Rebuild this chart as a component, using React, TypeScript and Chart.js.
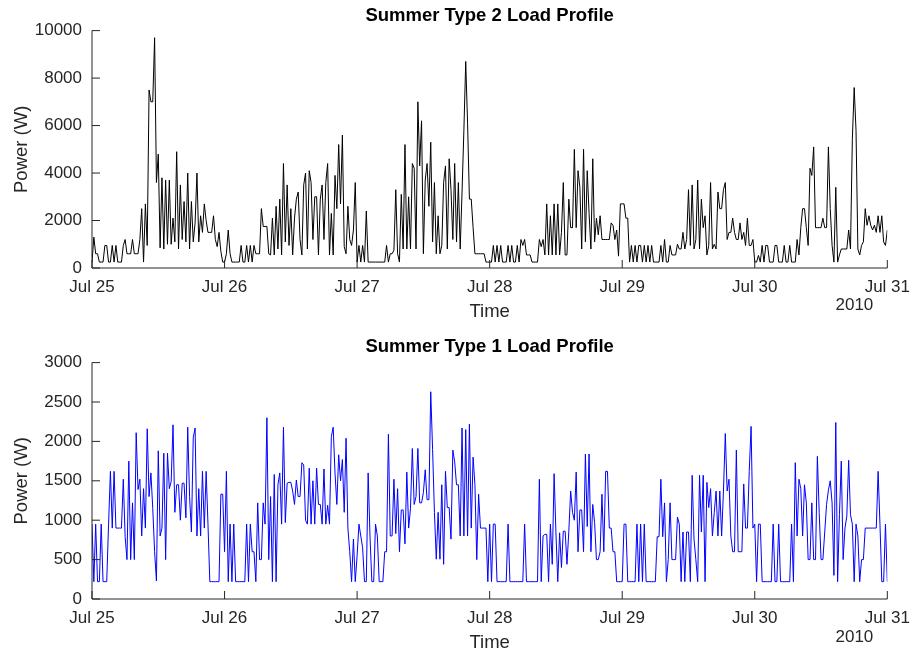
import React, { useEffect, useRef } from "react";
import { Chart, registerables } from "chart.js";

Chart.register(...registerables);

// Axis decorations
const dayLabels = ["Jul 25", "Jul 26", "Jul 27", "Jul 28", "Jul 29", "Jul 30", "Jul 31"];
const yearLabel = "2010";
const type2Ticks = [0, 2000, 4000, 6000, 8000, 10000];
const type1Ticks = [0, 500, 1000, 1500, 2000, 2500, 3000];
const stepsPerDay = 72; // one sample every 20 minutes

// Summer Type 2 load profile, power in W, one array per day
const type2Jul25 = [
  250, 1300, 600, 600, 250, 250, 250, 950, 950, 250,
  250, 950, 250, 950, 250, 250, 250, 950, 1200, 600,
  600, 600, 1200, 600, 600, 600, 1200, 2500, 250, 2700,
  950, 7500, 7000, 7000, 9700, 3600, 4800, 850, 3800, 800,
  3700, 1000, 3700, 1000, 2100, 1100, 4900, 800, 3500, 1200,
  2800, 1100, 4000, 800, 2800, 1100, 1900, 4000, 1100, 2200,
  1500, 2700, 2000, 1500, 1500, 1500, 2200, 1200, 900, 1500,
  700, 250,
];
const type2Jul26 = [
  250, 600, 1600, 600, 250, 250, 250, 250, 250, 950,
  250, 250, 950, 250, 950, 250, 950, 600, 600, 600,
  2500, 1750, 1750, 1750, 600, 550, 2100, 550, 2600, 800,
  2900, 550, 4400, 1100, 3500, 950, 2500, 550, 2100, 2900,
  3200, 1200, 550, 3500, 4000, 800, 4100, 3600, 1200, 3000,
  3000, 550, 2900, 3500, 1200, 3600, 4400, 550, 2300, 550,
  3900, 2500, 5200, 2700, 5600, 900, 600, 2600, 1200, 950,
  1600, 3600,
];
const type2Jul27 = [
  250, 950, 250, 950, 250, 2400, 250, 250, 250, 250,
  250, 250, 250, 250, 250, 250, 950, 250, 600, 600,
  750, 3300, 600, 250, 3100, 800, 5200, 800, 3000, 800,
  4400, 4200, 800, 7000, 4300, 6200, 600, 3700, 4400, 2600,
  5300, 1100, 3600, 600, 2200, 600, 950, 3600, 4300, 800,
  4600, 3300, 1200, 4400, 1100, 3600, 800, 3200, 5800, 8700,
  6100, 2900, 2900, 1700, 600, 600, 600, 600, 600, 600,
  250, 250,
];
const type2Jul28 = [
  250, 250, 950, 250, 950, 250, 950, 250, 250, 250,
  950, 250, 950, 250, 250, 950, 250, 1200, 950, 1200,
  550, 550, 550, 250, 250, 250, 250, 1200, 900, 1200,
  550, 2700, 550, 2200, 550, 2700, 550, 2700, 550, 1500,
  3600, 550, 550, 2900, 1700, 1700, 5000, 1700, 4100, 3400,
  800, 5000, 1100, 4100, 2300, 800, 4600, 1100, 2100, 1400,
  2200, 1200, 1200, 1200, 1200, 1200, 1900, 1800, 1200, 1600,
  500, 2700,
];
const type2Jul29 = [
  2700, 2700, 2100, 2100, 250, 950, 250, 950, 250, 950,
  950, 250, 950, 250, 950, 250, 950, 250, 250, 250,
  250, 950, 250, 1200, 250, 250, 950, 550, 550, 550,
  1000, 800, 800, 1500, 800, 1200, 3300, 950, 3500, 800,
  1200, 3700, 800, 2900, 1700, 2200, 550, 950, 3600, 800,
  1000, 800, 3200, 2500, 2500, 3300, 3600, 1200, 1500, 1500,
  2100, 1500, 1200, 1200, 1900, 1200, 1500, 950, 2100, 950,
  950, 1200,
];
const type2Jul30 = [
  250, 250, 530, 250, 950, 250, 950, 950, 250, 250,
  250, 950, 950, 250, 250, 250, 950, 250, 250, 950,
  250, 250, 250, 1200, 550, 1700, 2500, 2500, 1700, 950,
  4200, 3900, 5100, 1700, 1700, 1700, 1700, 2100, 1700, 1700,
  5100, 2500, 950, 250, 3400, 250, 550, 800, 800, 800,
  800, 1600, 800, 5400, 7600, 5800, 800, 550, 950, 1100,
  2500, 1800, 2200, 1800, 1600, 1800, 1500, 2200, 1500, 2200,
  1100, 950, 1600,
];

// Summer Type 1 load profile, power in W, one array per day
const type1Jul25 = [
  950, 220, 950, 220, 220, 950, 220, 220, 220, 950,
  1620, 900, 1620, 900, 900, 900, 900, 1520, 790, 500,
  1750, 500, 1220, 500, 2110, 1390, 1520, 800, 1400, 900,
  2160, 1300, 1600, 1150, 600, 230, 1880, 800, 900, 1850,
  500, 1850, 1400, 1490, 2210, 1100, 1450, 1450, 1000, 1470,
  1470, 1030, 2180, 1300, 850, 2050, 2170, 800, 1400, 800,
  1620, 900, 1620, 950, 220, 220, 220, 220, 220, 220,
  1330, 1330,
];
const type1Jul26 = [
  600, 1620, 220, 950, 220, 950, 220, 220, 220, 220,
  220, 220, 950, 220, 950, 600, 600, 220, 1220, 500,
  500, 1220, 950, 2300, 500, 1300, 220, 1580, 220, 1450,
  1600, 950, 2180, 970, 1470, 1480, 1480, 1370, 1200, 1510,
  1300, 1300, 1730, 1700, 1000, 950, 1660, 950, 1500, 950,
  1660, 1200, 1200, 950, 1650, 950, 1190, 950, 2060, 2180,
  1600, 1200, 1830, 1500, 1770, 1100, 2040, 900, 600, 220,
  760, 220,
];
const type1Jul27 = [
  550, 950, 800, 650, 220, 220, 1600, 800, 220, 220,
  950, 800, 220, 220, 220, 600, 600, 2090, 800, 800,
  1520, 830, 1400, 600, 1130, 1130, 700, 1610, 900, 1150,
  1910, 1200, 1300, 1910, 1220, 1220, 1350, 1640, 1260, 1260,
  2630, 1900, 1100, 505, 1100, 505, 1450, 440, 1620, 1160,
  1160, 760, 1890, 1740, 1450, 1450, 800, 2170, 800, 2150,
  800, 2220, 900, 1800, 1450, 500, 1330, 900, 900, 900,
  900, 220,
];
const type1Jul28 = [
  950, 220, 950, 950, 220, 220, 220, 220, 220, 220,
  950, 220, 220, 220, 220, 220, 220, 220, 220, 950,
  220, 220, 220, 220, 220, 220, 220, 1520, 220, 800,
  820, 820, 220, 950, 440, 1590, 840, 220, 840, 400,
  860, 860, 440, 860, 1370, 1100, 1000, 1610, 600, 1130,
  1130, 600, 1840, 920, 1840, 600, 1200, 970, 500, 500,
  600, 1330, 600, 1620, 1620, 900, 900, 600, 600, 220,
  220, 220,
];
const type1Jul29 = [
  220, 950, 950, 220, 220, 220, 220, 220, 950, 220,
  950, 220, 950, 220, 220, 220, 220, 220, 220, 790,
  790, 1520, 790, 1220, 220, 500, 1220, 500, 500, 500,
  1040, 950, 220, 850, 220, 850, 850, 220, 1570, 760,
  500, 220, 1570, 850, 1570, 220, 1480, 1160, 1400, 800,
  1100, 1370, 800, 1370, 800, 1370, 2100, 1370, 1520, 800,
  600, 600, 1890, 600, 600, 600, 1460, 900, 900, 1620,
  2190, 900,
];
const type1Jul30 = [
  950, 220, 950, 950, 220, 220, 220, 220, 220, 220,
  950, 220, 220, 950, 220, 220, 220, 220, 220, 220,
  950, 220, 1730, 800, 1520, 1400, 800, 1450, 1220, 500,
  500, 1220, 500, 500, 1810, 1100, 500, 500, 850, 1200,
  1380, 1500, 1220, 300, 2240, 220, 1070, 1750, 500, 900,
  1050, 1760, 1070, 950, 220, 950, 800, 220, 500, 500,
  900, 900, 900, 900, 900, 900, 900, 1620, 950, 220,
  220, 950, 220,
];

const type2Days = [type2Jul25, type2Jul26, type2Jul27, type2Jul28, type2Jul29, type2Jul30];
const type1Days = [type1Jul25, type1Jul26, type1Jul27, type1Jul28, type1Jul29, type1Jul30];

const FONT = '"Liberation Sans", Arial, Helvetica, sans-serif';
const TEXT = "#262626";
const AXIS = "#262626";
const TICK_SIZE = 17;
const LABEL_SIZE = 18.5;
const TICK_LEN = 8;

function toPoints(days: number[][]) {
  const pts: { x: number; y: number }[] = [];
  days.forEach((vals, d) => {
    vals.forEach((v, i) => pts.push({ x: d + i / stepsPerDay, y: v }));
  });
  return pts;
}

// Box-off axes with inward tick marks and the year under the last date
const axesDecor = {
  id: "axesDecor",
  afterDraw(chart: any) {
    const { ctx, chartArea: a, scales } = chart;
    const x = scales.x;
    const y = scales.y;
    const yearOffset = chart.options.plugins.axesDecor.yearOffset;
    ctx.save();
    ctx.strokeStyle = AXIS;
    ctx.lineWidth = 1;
    ctx.beginPath();
    ctx.moveTo(a.left, a.top);
    ctx.lineTo(a.left, a.bottom);
    ctx.lineTo(a.right, a.bottom);
    x.ticks.forEach((t: any) => {
      const px = x.getPixelForValue(t.value);
      ctx.moveTo(px, a.bottom);
      ctx.lineTo(px, a.bottom - TICK_LEN);
    });
    y.ticks.forEach((t: any) => {
      const py = y.getPixelForValue(t.value);
      ctx.moveTo(a.left, py);
      ctx.lineTo(a.left + TICK_LEN, py);
    });
    ctx.stroke();
    ctx.fillStyle = TEXT;
    ctx.font = `${TICK_SIZE}px ${FONT}`;
    ctx.textAlign = "right";
    ctx.textBaseline = "middle";
    ctx.fillText(yearLabel, a.right - 14, a.bottom + yearOffset);
    ctx.restore();
  },
};

type PanelProps = {
  title: string;
  days: number[][];
  color: string;
  yTicks: number[];
  height: number;
  titlePad: { top: number; bottom: number };
  xAxisHeight: number;
  tickPad: number;
  xTitlePad: number;
  yearOffset: number;
};

function Panel(props: PanelProps) {
  const ref = useRef<HTMLCanvasElement | null>(null);
  useEffect(() => {
    if (!ref.current) return;
    const yMax = props.yTicks[props.yTicks.length - 1];
    const yStep = props.yTicks[1] - props.yTicks[0];
    const chart = new Chart(ref.current, {
      type: "line",
      data: {
        datasets: [
          {
            data: toPoints(props.days),
            borderColor: props.color,
            borderWidth: 1,
            pointRadius: 0,
            tension: 0,
            fill: false,
          },
        ],
      },
      options: {
        responsive: false,
        animation: false,
        layout: { padding: { left: 0, right: 26, top: 0, bottom: 0 } },
        plugins: {
          legend: { display: false },
          tooltip: { enabled: false },
          title: {
            display: true,
            text: props.title,
            color: "#000",
            fullSize: false,
            font: { family: FONT, size: LABEL_SIZE, weight: "bold" },
            padding: props.titlePad,
          },
          axesDecor: { yearOffset: props.yearOffset },
        } as any,
        scales: {
          x: {
            type: "linear",
            min: 0,
            max: dayLabels.length - 1,
            border: { display: false },
            grid: { display: false, drawTicks: false },
            ticks: {
              stepSize: 1,
              autoSkip: false,
              maxRotation: 0,
              padding: props.tickPad,
              color: TEXT,
              font: { family: FONT, size: TICK_SIZE },
              callback: (v: any) => dayLabels[Math.round(Number(v))] ?? "",
            },
            title: {
              display: true,
              text: "Time",
              color: TEXT,
              font: { family: FONT, size: LABEL_SIZE },
              padding: { top: 0, bottom: props.xTitlePad },
            },
            afterFit: (s: any) => {
              s.height = props.xAxisHeight;
            },
          },
          y: {
            type: "linear",
            min: 0,
            max: yMax,
            border: { display: false },
            grid: { display: false, drawTicks: false },
            ticks: {
              stepSize: yStep,
              padding: 10,
              color: TEXT,
              font: { family: FONT, size: TICK_SIZE },
              callback: (v: any) => String(v),
            },
            title: {
              display: true,
              text: "Power (W)",
              color: TEXT,
              font: { family: FONT, size: LABEL_SIZE },
              padding: { top: 11, bottom: 0 },
            },
            afterFit: (s: any) => {
              s.width = 92;
            },
          },
        },
      } as any,
      plugins: [axesDecor],
    });
    return () => chart.destroy();
  }, []);
  return (
    <canvas
      ref={ref}
      width={919}
      height={props.height}
      style={{ display: "block", width: 919, height: props.height }}
    />
  );
}

export default function App() {
  return (
    <div
      style={{
        position: "absolute",
        left: 0,
        top: 0,
        width: 919,
        height: 655,
        background: "#fff",
        overflow: "hidden",
      }}
    >
      <Panel
        title="Summer Type 2 Load Profile"
        days={type2Days}
        color="#000000"
        yTicks={type2Ticks}
        height={328}
        titlePad={{ top: 5, bottom: 3.4 }}
        xAxisHeight={60}
        tickPad={9}
        xTitlePad={5}
        yearOffset={37}
      />
      <Panel
        title="Summer Type 1 Load Profile"
        days={type1Days}
        color="#0000ff"
        yTicks={type1Ticks}
        height={327}
        titlePad={{ top: 8.2, bottom: 4.2 }}
        xAxisHeight={56}
        tickPad={9}
        xTitlePad={1}
        yearOffset={38}
      />
    </div>
  );
}
